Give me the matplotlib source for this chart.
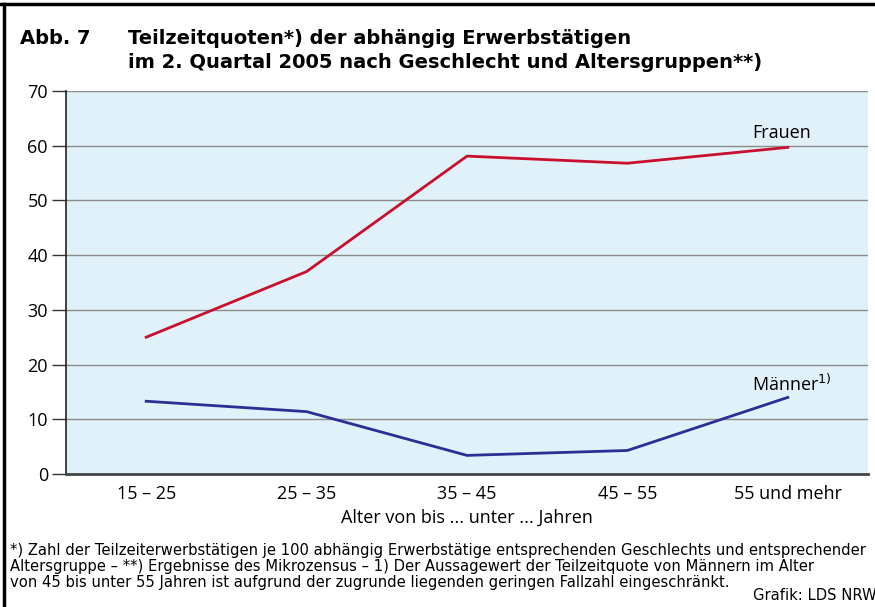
import matplotlib
matplotlib.use("Agg")
import matplotlib.pyplot as plt
from matplotlib.lines import Line2D

plt.rcParams['font.family'] = ['Open Sans', 'DejaVu Sans']

categories = ["15 – 25", "25 – 35", "35 – 45", "45 – 55", "55 und mehr"]
frauen = [25.0, 37.0, 58.1, 56.8, 59.7]
maenner = [13.3, 11.4, 3.4, 4.3, 14.0]
yticks = [0, 10, 20, 30, 40, 50, 60, 70]

fig = plt.figure(figsize=(8.75, 6.07), dpi=100)
ax = fig.add_axes([66/875, 1-474/607, 802/875, (474-91)/607])
ax.set_facecolor("#e0f1f9")
x = list(range(len(categories)))
ax.plot(x, frauen, color="#c8102e", lw=2.0, solid_joinstyle="miter")
ax.plot(x, maenner, color="#2b2e95", lw=2.0, solid_joinstyle="miter")
ax.set_xlim(-0.5, len(categories)-0.5)
ax.set_ylim(0, 70)
ax.set_yticks(yticks)
ax.set_xticks(x)
ax.set_xticklabels(categories, fontsize=13)
ax.tick_params(axis='x', length=0, pad=8)
ax.tick_params(axis='y', length=10, width=1, color="#333333", labelsize=13, pad=3)
ax.yaxis.grid(True, color="#8c8c8c", lw=1)
ax.set_axisbelow(True)
for s in ["top", "right"]:
    ax.spines[s].set_visible(False)
ax.spines["left"].set_color("#222222")
ax.spines["left"].set_linewidth(1.2)
ax.spines["bottom"].set_color("#444444")
ax.spines["bottom"].set_linewidth(2)
ax.set_xlabel("Alter von bis ... unter ... Jahren", fontsize=13, labelpad=4)
fig.text(752/875, 1-133/607, "Frauen", ha="left", va="center", fontsize=13)
fig.text(752/875, 1-384/607, "Männer$^{1)}$", ha="left", va="center", fontsize=13)

tfont = dict(fontsize=14.0, fontweight="bold", va="center", family=["DejaVu Sans"])
fig.text(20/875, 1-38/607, "Abb. 7", **tfont)
fig.text(128/875, 1-38/607, "Teilzeitquoten*) der abhängig Erwerbstätigen", **tfont)
fig.text(128/875, 1-62/607, "im 2. Quartal 2005 nach Geschlecht und Altersgruppen**)", **tfont)

foot_lines = [
    "*) Zahl der Teilzeiterwerbstätigen je 100 abhängig Erwerbstätige entsprechenden Geschlechts und entsprechender",
    "Altersgruppe – **) Ergebnisse des Mikrozensus – 1) Der Aussagewert der Teilzeitquote von Männern im Alter",
    "von 45 bis unter 55 Jahren ist aufgrund der zugrunde liegenden geringen Fallzahl eingeschränkt.",
]
for i, line in enumerate(foot_lines):
    fig.text(10/875, 1-(550 + 16.5*i)/607, line, fontsize=10.6, va="center", ha="left",
             family=["DejaVu Sans"])
fig.text(753/875, 1-596/607, "Grafik: LDS NRW", fontsize=10.6, va="center", ha="left",
         family=["DejaVu Sans"])

fig.add_artist(Line2D([0, 1], [1-4/607, 1-4/607], color="black", lw=2.5, transform=fig.transFigure))
fig.add_artist(Line2D([4/875, 4/875], [0, 1-4/607], color="black", lw=2.5, transform=fig.transFigure))

fig.savefig("out.png", dpi=100)
